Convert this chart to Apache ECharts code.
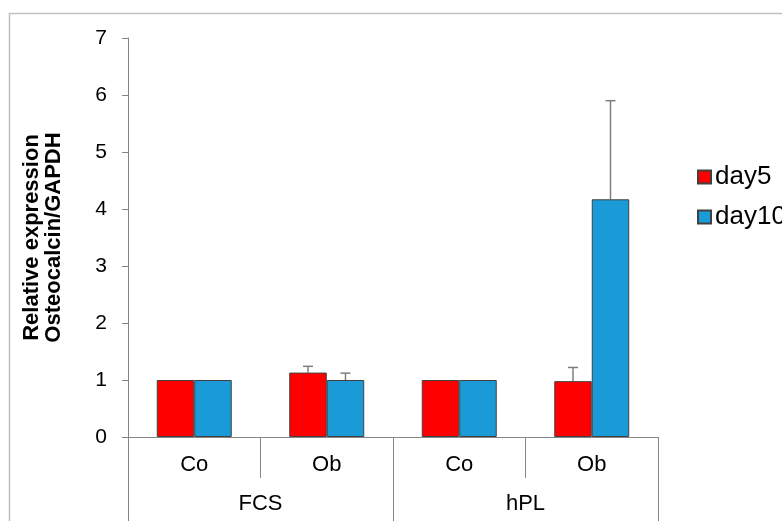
<!DOCTYPE html>
<html>
<head>
<meta charset="utf-8">
<script src="https://cdn.jsdelivr.net/npm/echarts@6/dist/echarts.min.js"></script>
<style>html,body{margin:0;padding:0;background:#fff;}#c{width:782px;height:521px;}</style>
</head>
<body>
<div id="c"></div>
<script>
var subCategories = ['Co', 'Ob', 'Co', 'Ob'];
var groupCategories = ['FCS', 'hPL'];
var seriesNames = ['day5', 'day10'];
var day5 = [1.0, 1.13, 1.0, 0.98];
var day10 = [1.0, 1.0, 1.0, 4.17];
var day5Err = [0, 0.11, 0, 0.24];
var day10Err = [0, 0.12, 0, 1.73];
var yTicks = [0, 1, 2, 3, 4, 5, 6, 7];

var FONT = 'Liberation Sans, Arial, sans-serif';
var BAR_RATIO = 0.283;

function errSeries(name, vals, errs, side) {
  return {
    type: 'custom',
    name: name + ' err',
    xAxisIndex: 0,
    yAxisIndex: 0,
    z: 1,
    silent: true,
    data: vals.map(function (v, i) { return [i, v, errs[i]]; }),
    renderItem: function (params, api) {
      var i = api.value(0), v = api.value(1), e = api.value(2);
      if (!e) return null;
      var catW = api.size([1, 0])[0];
      var bw = catW * BAR_RATIO;
      var base = api.coord([i, v]);
      var top = api.coord([i, v + e]);
      var x = base[0] + side * bw / 2;
      var st = { stroke: '#7f7f7f', lineWidth: 1.5 };
      return {
        type: 'group',
        children: [
          { type: 'line', shape: { x1: x, y1: base[1], x2: x, y2: top[1] }, style: st },
          { type: 'line', shape: { x1: x - 5, y1: top[1], x2: x + 5, y2: top[1] }, style: st }
        ]
      };
    }
  };
}

var chart = echarts.init(document.getElementById('c'), null, { renderer: 'canvas' });
chart.setOption({
  backgroundColor: '#fff',
  animation: false,
  grid: { left: 128, right: 124, top: 38, bottom: 84, containLabel: false },
  legend: {
    orient: 'vertical',
    left: 692,
    top: 159,
    itemWidth: 13,
    itemHeight: 13,
    itemGap: 14,
    icon: 'rect',
    textStyle: { fontFamily: FONT, fontSize: 26, color: '#000', padding: [0, 0, 0, -1] },
    data: seriesNames
  },
  xAxis: [
    {
      type: 'category',
      data: subCategories,
      position: 'bottom',
      axisLine: { lineStyle: { color: '#868686', width: 1 } },
      axisTick: { show: true, interval: 0, length: 41, lineStyle: { color: '#868686' } },
      axisLabel: { interval: 0, margin: 17, fontFamily: FONT, fontSize: 22, color: '#000' }
    },
    {
      type: 'category',
      data: groupCategories,
      position: 'bottom',
      axisLine: { lineStyle: { color: '#868686', width: 1 } },
      axisTick: { show: true, interval: 0, length: 84, lineStyle: { color: '#868686' } },
      axisLabel: { interval: 0, margin: 56, fontFamily: FONT, fontSize: 22, color: '#000' }
    }
  ],
  yAxis: {
    type: 'value',
    min: 0,
    max: 7,
    interval: 1,
    name: 'Relative expression\nOsteocalcin/GAPDH',
    nameLocation: 'middle',
    nameRotate: 90,
    nameGap: 63,
    nameTextStyle: { fontFamily: FONT, fontSize: 22, fontWeight: 'bold', color: '#000', lineHeight: 22 },
    axisLine: { show: true, lineStyle: { color: '#868686', width: 1 } },
    axisTick: { show: true, length: 6, inside: false, lineStyle: { color: '#868686' } },
    axisLabel: { margin: 21, fontFamily: FONT, fontSize: 21, color: '#000',
      formatter: function (v) { return yTicks.indexOf(v) >= 0 ? String(v) : ''; } },
    splitLine: { show: false }
  },
  series: [
    {
      type: 'bar', name: seriesNames[0], data: day5, xAxisIndex: 0,
      barWidth: (BAR_RATIO * 100) + '%', barGap: '0%',
      itemStyle: { color: '#ff0000', borderColor: '#404040', borderWidth: 1 }
    },
    {
      type: 'bar', name: seriesNames[1], data: day10, xAxisIndex: 0,
      barWidth: (BAR_RATIO * 100) + '%', barGap: '0%',
      itemStyle: { color: '#1a9bd7', borderColor: '#404040', borderWidth: 1 }
    },
    errSeries(seriesNames[0], day5, day5Err, -1),
    errSeries(seriesNames[1], day10, day10Err, 1)
  ],
  graphic: [
    { type: 'rect', left: 7, top: 11, shape: { width: 800, height: 530 },
      style: { fill: 'none', stroke: '#c0c0c0', lineWidth: 1.5 }, silent: true, z: -1 }
  ]
});
</script>
</body>
</html>
